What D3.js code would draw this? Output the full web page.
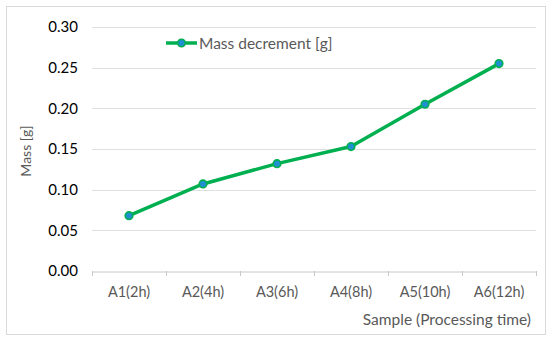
<!DOCTYPE html>
<html>
<head>
<meta charset="utf-8">
<script src="https://cdn.jsdelivr.net/npm/d3@7"></script>
<style>
  body { margin: 0; background: #fff; }
  svg { display: block; }
  svg text { font-family: Lato, "Open Sans", sans-serif; }
</style>
</head>
<body>
<svg id="chart" width="550" height="342"></svg>
<script>
// data
var samples = ["A1(2h)", "A2(4h)", "A3(6h)", "A4(8h)", "A5(10h)", "A6(12h)"];
var massDecrement = [0.068, 0.107, 0.132, 0.153, 0.205, 0.255];
var yTicks = [0, 0.05, 0.10, 0.15, 0.20, 0.25, 0.30];
var seriesName = "Mass decrement [g]";

var svg = d3.select("#chart"),
    margin = {top: 27, right: 14, bottom: 71, left: 92},
    width = 550 - margin.left - margin.right,
    height = 342 - margin.top - margin.bottom;

// outer frame
svg.append("rect")
    .attr("x", 6.5).attr("y", 6.5)
    .attr("width", 539).attr("height", 328)
    .attr("fill", "#fff")
    .attr("stroke", "#d9d9d9");

var g = svg.append("g").attr("transform", "translate(" + margin.left + "," + margin.top + ")");

var x = d3.scaleBand().domain(samples).range([0, width]);
var y = d3.scaleLinear().domain([0, 0.30]).range([height, 0]);

// gridlines
g.append("g")
    .selectAll("line")
    .data(yTicks.slice(1))
    .enter().append("line")
    .attr("x1", 0).attr("x2", width)
    .attr("y1", function(d) { return Math.round(y(d)) + 0.5; })
    .attr("y2", function(d) { return Math.round(y(d)) + 0.5; })
    .attr("stroke", "#e0e0e0")
    .attr("stroke-width", 1);

// y axis (labels only)
var yAxis = g.append("g")
    .call(d3.axisLeft(y).tickValues(yTicks).tickFormat(d3.format(".2f")).tickSize(0).tickPadding(14));
yAxis.select(".domain").remove();
yAxis.attr("font-family", null);
yAxis.selectAll("text")
    .attr("fill", "#000")
    .style("font-size", "15px");

// x axis
var xAxis = g.append("g")
    .attr("transform", "translate(0," + (Math.round(height) + 0.5) + ")")
    .call(d3.axisBottom(x).tickSize(0).tickPadding(15));
xAxis.attr("font-family", null);
xAxis.select(".domain").attr("stroke", "#c8c8c8");
xAxis.selectAll("text")
    .attr("fill", "#595959")
    .style("font-size", "14.5px");

// category boundary ticks
g.append("g")
    .selectAll("line")
    .data(d3.range(samples.length + 1))
    .enter().append("line")
    .attr("x1", function(i) { return Math.round(i * x.step()) + 0.5; })
    .attr("x2", function(i) { return Math.round(i * x.step()) + 0.5; })
    .attr("y1", height).attr("y2", height + 5)
    .attr("stroke", "#c8c8c8");

// axis titles
svg.append("text")
    .attr("transform", "translate(31,151) rotate(-90)")
    .attr("text-anchor", "middle")
    .attr("fill", "#595959")
    .style("font-size", "14px")
    .text("Mass [g]");

svg.append("text")
    .attr("x", 531).attr("y", 325)
    .attr("text-anchor", "end")
    .attr("fill", "#595959")
    .style("font-size", "15.5px")
    .text("Sample (Processing time)");

// the line
var line = d3.line()
    .x(function(d, i) { return x(samples[i]) + x.bandwidth() / 2; })
    .y(function(d) { return y(d); });

g.append("path")
    .datum(massDecrement)
    .attr("fill", "none")
    .attr("stroke", "#00b050")
    .attr("stroke-width", 3.5)
    .attr("stroke-linejoin", "round")
    .attr("d", line);

g.selectAll(".dot")
    .data(massDecrement)
    .enter().append("circle")
    .attr("cx", function(d, i) { return x(samples[i]) + x.bandwidth() / 2; })
    .attr("cy", function(d) { return y(d); })
    .attr("r", 3.8)
    .attr("fill", "#1e90d0")
    .attr("stroke", "#00b050")
    .attr("stroke-width", 1.6);

// legend
var lg = svg.append("g").attr("transform", "translate(166,43)");
lg.append("line")
    .attr("x1", 0).attr("x2", 31)
    .attr("stroke", "#00b050").attr("stroke-width", 3.5);
lg.append("circle")
    .attr("cx", 15.5).attr("r", 3.8)
    .attr("fill", "#1e90d0").attr("stroke", "#00b050").attr("stroke-width", 1.6);
lg.append("text")
    .attr("x", 33).attr("y", 5.5)
    .attr("fill", "#595959")
    .style("font-size", "15.5px")
    .text(seriesName);
</script>
</body>
</html>
